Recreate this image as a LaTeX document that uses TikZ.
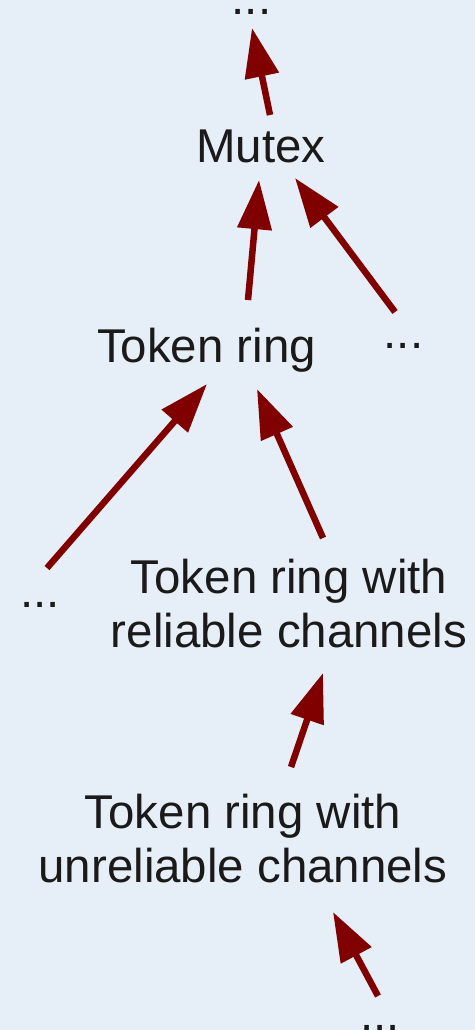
\documentclass[tikz,border=0pt]{standalone}
\usepackage{fontspec}
\setmainfont{Liberation Sans}
\usetikzlibrary{arrows.meta, positioning}
\definecolor{cbg}{HTML}{E6EEF7}
\definecolor{cdred}{HTML}{800000}
\definecolor{ctext}{HTML}{1A1A1A}
\tikzset{
  every picture/.style={line width=3.7pt},
  lbl/.style={text=ctext, align=center, inner sep=0pt, anchor=base, font=\fontsize{27}{30.7}\selectfont},
  arrow/.style={-{Triangle[length=28pt, width=19pt]}, draw=cdred, line width=3.7pt},
}

\begin{document}
\begin{tikzpicture}[x=0.02cm, y=-0.02cm]
  \fill[cbg] (0,0) rectangle (475,1030);
  \useasboundingbox (0,0) rectangle (475,1030);
  % levels, top to bottom (base = last line)
  \node[lbl] (top) at (251.5,15) {...};
  \node[lbl] (mutex) at (261,163) {Mutex};
  \node[lbl] (ring) at (206.5,362) {Token ring};
  \node[lbl] (rdots) at (403.5,348) {...};
  \node[lbl] (ldots) at (40,607) {...};
  \node[lbl] (rel) at (289,647) {Token ring with\\reliable channels};
  \node[lbl] (unrel) at (243,882) {Token ring with\\unreliable channels};
  \node[lbl] (bdots) at (380,1030) {...};
  % refinement arrows
  \draw[arrow] ([shift={(9,-48)}]mutex.base) -- ([shift={(0.5,13)}]top.base);
  \draw[arrow] ([shift={(41.5,-62)}]ring.base) -- ([shift={(-2,17)}]mutex.base);
  \draw[arrow] ([shift={(-8.5,-36)}]rdots.base) -- ([shift={(34,15)}]mutex.base);
  \draw[arrow] ([shift={(7,-39)}]ldots.base) -- ([shift={(0.5,22)}]ring.base);
  \draw[arrow] ([shift={(34,-109)}]rel.base) -- ([shift={(50.5,27)}]ring.base);
  \draw[arrow] ([shift={(48,-115)}]unrel.base) -- ([shift={(34,26)}]rel.base);
  \draw[arrow] ([shift={(-2,-34)}]bdots.base) -- ([shift={(90,30)}]unrel.base);
\end{tikzpicture}
\end{document}
